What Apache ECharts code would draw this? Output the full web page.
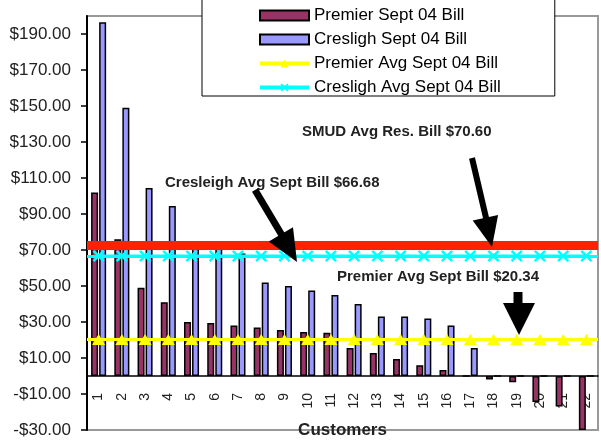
<!DOCTYPE html>
<html>
<head>
<meta charset="utf-8">
<script src="https://cdn.jsdelivr.net/npm/echarts@6/dist/echarts.min.js"></script>
<style>
  html, body { margin: 0; padding: 0; background: #fff; }
  #chart { width: 601px; height: 440px; }
</style>
</head>
<body>
<div id="chart"></div>
<script>
const customers = ['1', '2', '3', '4', '5', '6', '7', '8', '9', '10', '11',
  '12', '13', '14', '15', '16', '17', '18', '19', '20', '21', '22']

const premierBill = [102, 76, 49, 41, 30, 29.5, 28, 27, 25.5, 24.5, 24,
  15.5, 12.8, 9.5, 6, 3.3, 0, -2, -3.5, -14.5, -17, -30]
const creslighBill = [196.5, 149, 104.5, 94.5, 75, 71, 68, 52, 50, 47.5, 45,
  40, 33, 33, 32, 28, 15.5, 0, 0, 0, 0, 0]

const premierAvg = [20.34, 20.34, 20.34, 20.34, 20.34, 20.34, 20.34, 20.34, 20.34, 20.34, 20.34,
  20.34, 20.34, 20.34, 20.34, 20.34, 20.34, 20.34, 20.34, 20.34, 20.34, 20.34]
const creslighAvg = [66.68, 66.68, 66.68, 66.68, 66.68, 66.68, 66.68, 66.68, 66.68, 66.68, 66.68,
  66.68, 66.68, 66.68, 66.68, 66.68, 66.68, 66.68, 66.68, 66.68, 66.68, 66.68]

// level where the red SMUD line is drawn in the picture
const smudLevel = 72.7

const yMin = -30
const yMax = 200
const yStep = 20

const font = '"Liberation Sans", Arial, sans-serif'
const xMark = 'path://M0,1.5L1.5,0L5,3.5L8.5,0L10,1.5L6.5,5L10,8.5L8.5,10L5,6.5L1.5,10L0,8.5L3.5,5Z'

function money(v) {
  return (v < 0 ? '-$' : '$') + Math.abs(v).toFixed(2)
}

const chart = echarts.init(document.getElementById('chart'))

const arrow = (x1, y1, x2, y2, w, head) => [
  { type: 'line', shape: { x1, y1, x2, y2 }, style: { stroke: '#000', lineWidth: w }, z: 10 },
  { type: 'polygon', shape: { points: head }, style: { fill: '#000' }, z: 10 }
]

const option = {
  animation: false,
  grid: {
    left: 87, right: 3, top: 16, bottom: 10,
    outerBoundsMode: 'none',
    containLabel: false,
    show: true,
    borderColor: '#999',
    borderWidth: 2
  },
  legend: {
    orient: 'vertical',
    left: 202,
    top: -10,
    padding: [17, 54, 0, 56],
    itemGap: 7,
    itemWidth: 49,
    itemHeight: 10,
    backgroundColor: '#fff',
    borderColor: '#000',
    borderWidth: 1,
    lineStyle: { width: 4 },
    textStyle: { fontSize: 17, color: '#000', fontFamily: font },
    data: [
      { name: 'Premier Sept 04 Bill', icon: 'rect' },
      { name: 'Cresligh Sept 04 Bill', icon: 'rect' },
      'Premier Avg Sept 04 Bill',
      'Cresligh Avg Sept 04 Bill'
    ]
  },
  xAxis: {
    type: 'category',
    data: customers,
    name: 'Customers',
    nameLocation: 'middle',
    nameGap: -8,
    nameTextStyle: { fontSize: 17, fontWeight: 'bold', color: '#222', fontFamily: font },
    axisLine: { onZero: true, lineStyle: { color: '#000', width: 1.5 } },
    axisTick: { length: 5, lineStyle: { color: '#000', width: 1.5 } },
    axisLabel: { rotate: 90, margin: -37, fontSize: 14, color: '#222', fontFamily: font },
    splitLine: { show: false }
  },
  yAxis: {
    type: 'value',
    min: yMin,
    max: yMax,
    interval: yStep,
    axisLine: { show: true, lineStyle: { color: '#000', width: 2 } },
    axisTick: { show: true, length: 6, lineStyle: { color: '#000', width: 1.5 } },
    axisLabel: {
      margin: 16, fontSize: 17, color: '#222', fontFamily: font,
      showMaxLabel: false,
      formatter: money
    },
    splitLine: { show: false }
  },
  series: [
    {
      name: 'Premier Sept 04 Bill',
      type: 'bar',
      data: premierBill,
      barWidth: 7,
      barGap: '15%',
      itemStyle: { color: '#993366', borderColor: '#000', borderWidth: 1.5 }
    },
    {
      name: 'Cresligh Sept 04 Bill',
      type: 'bar',
      data: creslighBill,
      barWidth: 7,
      barGap: '15%',
      itemStyle: { color: '#9999FF', borderColor: '#000', borderWidth: 1.5 }
    },
    {
      name: 'Premier Avg Sept 04 Bill',
      type: 'line',
      data: premierAvg,
      z: 3,
      symbol: 'triangle',
      symbolSize: [13, 11],
      lineStyle: { color: '#FFFF00', width: 3 },
      itemStyle: { color: '#FFFF00' },
      markLine: {
        silent: true, symbol: 'none', label: { show: false },
        lineStyle: { color: '#FFFF00', width: 3, type: 'solid' },
        data: [{ yAxis: premierAvg[0] }]
      }
    },
    {
      name: 'Cresligh Avg Sept 04 Bill',
      type: 'line',
      data: creslighAvg,
      z: 3,
      symbol: xMark,
      symbolSize: 12,
      lineStyle: { color: '#00FFFF', width: 3 },
      itemStyle: { color: '#00FFFF' },
      markLine: {
        silent: true, symbol: 'none', label: { show: false },
        data: [
          { yAxis: creslighAvg[0], lineStyle: { color: '#00FFFF', width: 3, type: 'solid' } },
          { yAxis: smudLevel, lineStyle: { color: '#FF2200', width: 9, type: 'solid' } }
        ]
      }
    }
  ],
  graphic: [
    {
      type: 'text', z: 10,
      style: { text: 'SMUD Avg Res. Bill $70.60', x: 302, y: 132, font: 'bold 15px ' + font, fill: '#222', verticalAlign: 'middle' }
    },
    {
      type: 'text', z: 10,
      style: { text: 'Cresleigh Avg Sept Bill $66.68', x: 165, y: 183, font: 'bold 15px ' + font, fill: '#222', verticalAlign: 'middle' }
    },
    {
      type: 'text', z: 10,
      style: { text: 'Premier Avg Sept Bill $20.34', x: 337, y: 277, font: 'bold 15px ' + font, fill: '#222', verticalAlign: 'middle' }
    },
    ...arrow(255, 190, 283, 237, 7, [[297, 262], [268.8, 241.5], [293, 227.3]]),
    ...arrow(472, 158, 487, 222, 6, [[492, 247], [472.7, 220.5], [498.1, 214.9]]),
    ...arrow(518, 292, 518, 306, 9, [[519, 335], [503, 303], [535, 303]])
  ]
}

chart.setOption(option)
</script>
</body>
</html>
